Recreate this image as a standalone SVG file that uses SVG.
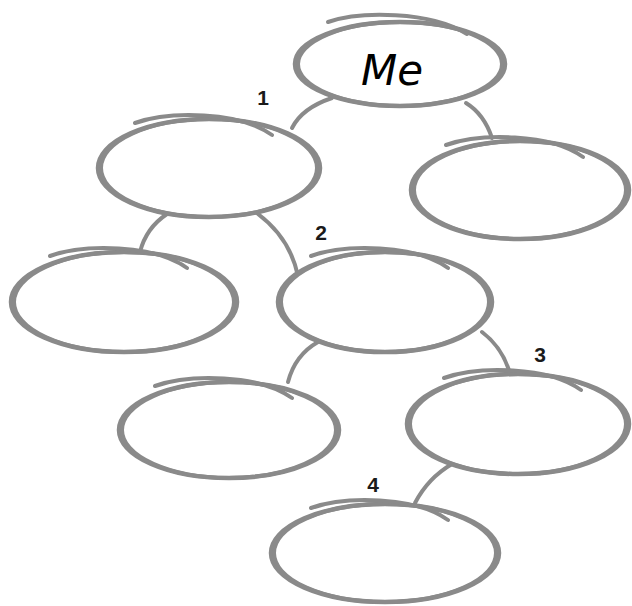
<svg xmlns="http://www.w3.org/2000/svg" width="632" height="606" viewBox="0 0 632 606">
<style>
.bg{fill:#ffffff}
.o{fill:#ffffff;stroke:#8a8a8a;stroke-width:4.5}
.i{fill:none;stroke:#8a8a8a;stroke-width:4}
.sw{fill:none;stroke:#8a8a8a;stroke-width:4;stroke-linecap:round}
.c{fill:none;stroke:#8a8a8a;stroke-width:4;stroke-linecap:round}
.num{font-family:"Liberation Sans",Arial,sans-serif;font-weight:bold;font-size:21px;fill:#1a1a1a;text-anchor:middle}
.me{font-family:"DejaVu Sans",sans-serif;font-style:italic;font-size:42px;fill:#000;text-anchor:middle}
</style>
<rect class="bg" width="632" height="606"/>
<g id="connectors">
<path class="c" d="M292,128 Q302,108 332,98"/>
<path class="c" d="M466,103 Q484,114 492,138"/>
<path class="c" d="M167,214 Q146,228 140,252"/>
<path class="c" d="M258,214 Q290,238 298,276"/>
<path class="c" d="M318,342 Q295,355 288,382"/>
<path class="c" d="M482,332 Q503,348 510,374"/>
<path class="c" d="M452,464 Q428,478 415,503"/>
</g>
<g id="me" transform="translate(400,64)">
<ellipse class="o" rx="105" ry="42"/>
<ellipse class="i" rx="102" ry="42"/>
<path class="sw" d="M-72,-42 C-40,-53 30,-53 67,-30"/>
<text class="me" x="-8" y="21">Me</text>
</g>
<g id="n1" transform="translate(209,168)">
<ellipse class="o" rx="111" ry="49"/>
<ellipse class="i" rx="108" ry="49"/>
<path class="sw" d="M-74,-45 C-40,-57 30,-57 63,-33"/>
</g>
<g id="nR" transform="translate(520,190)">
<ellipse class="o" rx="109" ry="49"/>
<ellipse class="i" rx="106" ry="49"/>
<path class="sw" d="M-74,-45 C-40,-57 30,-57 63,-33"/>
</g>
<g id="nL" transform="translate(124,302)">
<ellipse class="o" rx="113" ry="50"/>
<ellipse class="i" rx="110" ry="50"/>
<path class="sw" d="M-74,-46 C-40,-58 30,-58 63,-34"/>
</g>
<g id="n2" transform="translate(385,302)">
<ellipse class="o" rx="107" ry="50"/>
<ellipse class="i" rx="104" ry="50"/>
<path class="sw" d="M-74,-46 C-40,-58 30,-58 63,-34"/>
</g>
<g id="nLL" transform="translate(229,430)">
<ellipse class="o" rx="110" ry="48"/>
<ellipse class="i" rx="107" ry="48"/>
<path class="sw" d="M-74,-44 C-40,-56 30,-56 63,-32"/>
</g>
<g id="n3" transform="translate(518,424)">
<ellipse class="o" rx="111" ry="50"/>
<ellipse class="i" rx="108" ry="50"/>
<path class="sw" d="M-74,-46 C-40,-58 30,-58 63,-34"/>
</g>
<g id="n4" transform="translate(385,553)">
<ellipse class="o" rx="114" ry="49"/>
<ellipse class="i" rx="111" ry="49"/>
<path class="sw" d="M-74,-45 C-40,-57 30,-57 63,-33"/>
</g>
<g id="labels">
<text class="num" x="263" y="105">1</text>
<text class="num" x="321" y="240">2</text>
<text class="num" x="540" y="362">3</text>
<text class="num" x="373" y="492">4</text>
</g>
</svg>
